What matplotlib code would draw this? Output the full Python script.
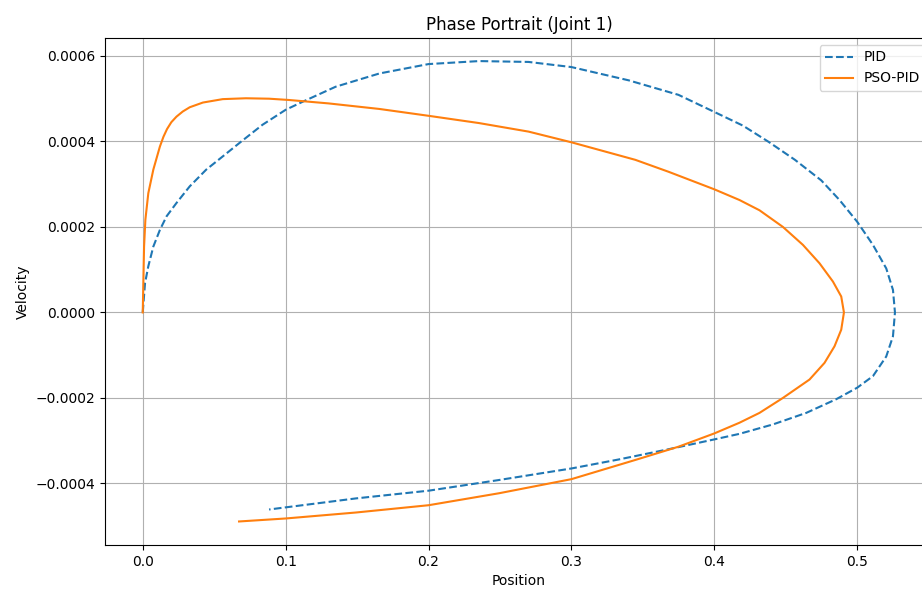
import matplotlib
matplotlib.use("Agg")
import matplotlib.pyplot as plt

# PID trajectory (position, velocity)
pid_pos = [0.0, 0.0016, 0.0039, 0.0074, 0.012, 0.0167, 0.0236, 0.0329, 0.0444, 0.056,
           0.0690, 0.0838, 0.100, 0.112, 0.135, 0.1656, 0.200, 0.2353, 0.270, 0.300,
           0.340, 0.3749, 0.400, 0.420, 0.438, 0.4564, 0.4748, 0.4876, 0.500, 0.511,
           0.5203, 0.525, 0.5264, 0.525, 0.5203, 0.511, 0.500, 0.4853, 0.4643, 0.441,
           0.4176, 0.400, 0.368, 0.333, 0.300, 0.2493, 0.200, 0.1493, 0.100, 0.0884]
pid_vel = [0.0, 0.0000686, 0.000108, 0.000154, 0.000193, 0.000225, 0.000256, 0.000295,
           0.000334, 0.000365, 0.000400, 0.000439, 0.000474, 0.000493, 0.000528, 0.000559,
           0.000581, 0.000588, 0.000586, 0.000574, 0.000543, 0.000509, 0.000469, 0.000437,
           0.000399, 0.000357, 0.000309, 0.000263, 0.000212, 0.000158, 0.000103, 0.0000528,
           0.0, -0.0000559, -0.000103, -0.000149, -0.000176, -0.000203, -0.000235, -0.000262,
           -0.000284, -0.000297, -0.000320, -0.000344, -0.000365, -0.000392, -0.000417,
           -0.000435, -0.000456, -0.000461]

# PSO-PID trajectory
pso_pos = [0.0, 0.00046, 0.00093, 0.00185, 0.0039, 0.0074, 0.012, 0.0145, 0.0170, 0.0200,
           0.0236, 0.0280, 0.0329, 0.0421, 0.056, 0.0722, 0.0884, 0.1023, 0.130, 0.1656,
           0.200, 0.2353, 0.270, 0.300, 0.3447, 0.368, 0.400, 0.4176, 0.4316, 0.448,
           0.462, 0.4736, 0.483, 0.4888, 0.4907, 0.4888, 0.4841, 0.4771, 0.4666, 0.448,
           0.4316, 0.4176, 0.400, 0.375, 0.3448, 0.300, 0.2493, 0.200, 0.1493, 0.100, 0.0674]
pso_vel = [0.0, 0.0000764, 0.000154, 0.000217, 0.000279, 0.000334, 0.000388, 0.000411,
           0.000429, 0.000445, 0.000458, 0.000470, 0.000480, 0.000491, 0.000499, 0.000501,
           0.000500, 0.000497, 0.000489, 0.000476, 0.000460, 0.000443, 0.000423, 0.000398,
           0.000357, 0.000329, 0.000288, 0.000263, 0.000239, 0.000200, 0.000158, 0.000115,
           0.0000722, 0.0000373, 0.0, -0.0000404, -0.0000792, -0.000118, -0.000157, -0.000200,
           -0.000235, -0.000258, -0.000283, -0.000314, -0.000345, -0.000390, -0.000423,
           -0.000451, -0.000468, -0.000482, -0.000489]

fig = plt.figure(figsize=(9.22, 5.90), dpi=100)
# axes run a little past the right edge, like the reference crop
ax = fig.add_axes([0.1139, 0.0763, 0.898, 0.8593])

ax.plot(pid_pos, pid_vel, '--', label='PID')
ax.plot(pso_pos, pso_vel, '-', label='PSO-PID')

ax.set_xlim(-0.0264, 0.553)
ax.set_ylim(-0.000544, 0.000642)
ax.set_title('Phase Portrait (Joint 1)')
ax.set_xlabel('Position')
ax.set_ylabel('Velocity')
ax.legend(loc='upper right')
ax.grid(True)

fig.savefig('out.png', dpi=100)
